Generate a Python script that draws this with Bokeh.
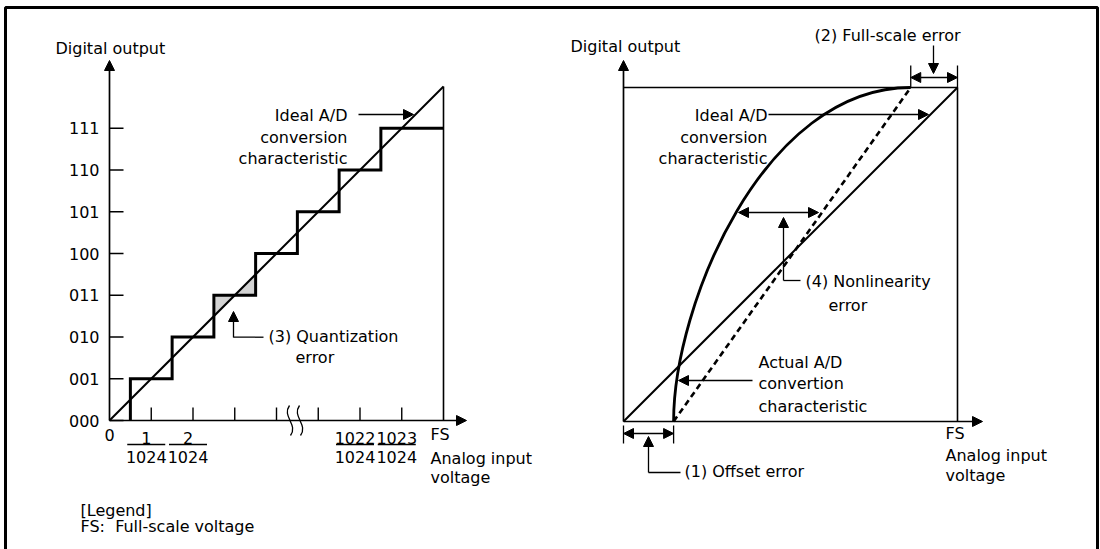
from bokeh.plotting import figure
from bokeh.models import Range1d, Arrow, NormalHead
from bokeh.embed import file_html
from bokeh.resources import INLINE
from bokeh.core.properties import value

# ---------------- data ----------------
# left panel: 3-bit view of the A/D transfer function (units = LSB)
codes = ["000", "001", "010", "011", "100", "101", "110", "111"]
transitions = [0.5, 1.5, 2.5, 3.5, 4.5, 5.5, 6.5]
full_scale = 8
ticks_before_break = [1, 2, 3, 4]
ticks_after_break = [5, 6, 7]
frac_pos = [1, 2, 6, 7]
frac_num = ["1", "2", "1022", "1023"]
frac_den = ["1024", "1024", "1024", "1024"]
quant_code = 3

# right panel (fractions of full scale)
offset_error = 0.15
fullscale_error = 0.14
# actual characteristic as a cubic Bezier: start, control 1, control 2, end
actual_start = (0.15, 0.0)
actual_ctrl1 = (0.15, 0.35)
actual_ctrl2 = (0.42, 1.0)
actual_end = (0.86, 1.0)

# ---------------- layout ----------------
W, H = 1100, 549
PX0, PY0 = 0, 0
FONT = value("DejaVu Sans")
FS_ = "16px"
L_OX, L_OY, R_OX, R_OY, SIDE = 109, 420, 623, 421, 334
LSB = SIDE / full_scale


def xr(ox, unit):
    return Range1d((PX0 - ox) / unit, (PX0 + W - ox) / unit)


def yr(oy, unit):
    return Range1d((oy - (PY0 + H)) / unit, (oy - PY0) / unit)


p = figure(width=W, height=H, x_range=Range1d(PX0, PX0 + W), y_range=Range1d(PY0 + H, PY0),
           output_backend="svg", toolbar_location=None, min_border=0,
           x_axis_location=None, y_axis_location=None)
p.grid.visible = False
p.outline_line_color = None
p.background_fill_color = "white"
p.extra_x_ranges = {"L": xr(L_OX, LSB), "R": xr(R_OX, SIDE)}
p.extra_y_ranges = {"L": yr(L_OY, LSB), "R": yr(R_OY, SIDE)}
LR = dict(x_range_name="L", y_range_name="L")
RR = dict(x_range_name="R", y_range_name="R")


def txt(x, y, t, align="left", **kw):
    p.text(x=x, y=y, text=t, text_font=FONT, text_font_size=FS_, text_color="black",
           text_align=align, text_baseline="middle", **kw)


def arrow(x0, y0, x1, y1, both=False, lw=1.3, **kw):
    head = lambda: NormalHead(size=10, fill_color="black", line_color="black", line_width=1)
    p.add_layout(Arrow(x_start=x0, y_start=y0, x_end=x1, y_end=y1, line_width=lw,
                       line_color="black", end=head(), start=head() if both else None, **kw))


# outer frame
p.line([5, 5, 1097, 1097], [560, 7, 7, 560], line_width=3, line_color="black")

# ================= LEFT PANEL =================
q = quant_code
p.patches([[q - 0.5, q - 0.5, q], [q, q + 0.5, q + 0.5]],
          [[q - 0.5, q, q], [q, q, q + 0.5]], fill_color="#d3d3d3", line_color=None, **LR)
sx, sy = [transitions[0]], [0]
for k, t in enumerate(transitions):
    sx += [t, t]
    sy += [k, k + 1]
sx.append(full_scale)
sy.append(len(transitions))
p.line(sx, sy, line_width=3, line_color="black", line_join="miter", **LR)
p.line([0, full_scale], [0, full_scale], line_width=2, line_color="black", **LR)
p.line([full_scale, full_scale], [0, full_scale], line_width=1.6, line_color="black", **LR)
n = len(codes)
p.segment(x0=[0] * n, y0=list(range(n)), x1=[14 / LSB] * n, y1=list(range(n)),
          line_width=1.4, line_color="black", **LR)
txt([0] * n, list(range(n)), codes, align="right", x_offset=-10, **LR)
xt = ticks_before_break + ticks_after_break
p.segment(x0=xt, y0=[0] * len(xt), x1=xt, y1=[13 / LSB] * len(xt),
          line_width=1.4, line_color="black", **LR)
txt([0], [0], ["0"], align="center", y_offset=14, **LR)
txt(frac_pos, [0] * 4, frac_num, align="center", x_offset=-5, y_offset=17.5, **LR)
txt(frac_pos, [0] * 4, frac_den, align="center", x_offset=-5, y_offset=36.5, **LR)
p.rect(x=[f - 5 / LSB for f in frac_pos], y=[-24 / LSB] * 4, width=38, height=1.3,
       width_units="screen", height_units="screen", fill_color="black", line_color=None, **LR)
for bx in (289, 299):
    p.bezier(x0=[bx], y0=[405], x1=[bx + 1], y1=[435], cx0=[bx - 8], cy0=[416],
             cx1=[bx + 9], cy1=[424], line_width=1.3, line_color="black")
arrow(L_OX, L_OY, L_OX, 60, lw=1.7)
arrow(L_OX, L_OY, 466, L_OY, lw=1.7)

txt([55], [47.5], ["Digital output"])
txt([347, 347, 347], [115, 137, 158], ["Ideal A/D", "conversion", "characteristic"], align="right")
arrow(358, 114, 413, 114)
txt([268, 295], [335.5, 357], ["(3) Quantization", "error"])
p.line([263, 233], [336.7, 336.7], line_width=1.3, line_color="black")
arrow(233, 337, 233, 311)
txt([430, 430, 430], [434, 457.5, 476.5], ["FS", "Analog input", "voltage"])
txt([80, 80], [510, 526], ["[Legend]", "FS:\u00a0\u00a0Full-scale voltage"])

# ================= RIGHT PANEL =================
p.line([0, 1, 1], [1, 1, 0], line_width=1.6, line_color="black", **RR)
p.line([0, 1], [0, 1], line_width=2, line_color="black", **RR)
p.line([offset_error, 1 - fullscale_error], [0, 1], line_width=2.6, line_color="black",
       line_dash="6 4", **RR)
p.bezier(x0=[actual_start[0]], y0=[actual_start[1]], cx0=[actual_ctrl1[0]], cy0=[actual_ctrl1[1]],
         cx1=[actual_ctrl2[0]], cy1=[actual_ctrl2[1]], x1=[actual_end[0]], y1=[actual_end[1]],
         line_width=2.8, line_color="black", **RR)
arrow(R_OX, R_OY, R_OX, 60, lw=1.7)
arrow(R_OX, R_OY, 982, R_OY, lw=1.7)

txt([570], [45.5], ["Digital output"])
p.segment(x0=[1 - fullscale_error, 1], y0=[1, 1], x1=[1 - fullscale_error, 1],
          y1=[1 + 22 / SIDE, 1 + 22 / SIDE], line_width=1.3, line_color="black", **RR)
arrow(1 - fullscale_error, 1 + 10 / SIDE, 1, 1 + 10 / SIDE, both=True, **RR)
arrow(933, 45, 933, 73)
txt([960], [34.5], ["(2) Full-scale error"], align="right")
txt([767, 767, 767], [115, 137, 157.5], ["Ideal A/D", "conversion", "characteristic"], align="right")
arrow(768, 114, 928, 114)
arrow(738, 212, 818, 212, both=True)
p.line([800, 783], [280, 280], line_width=1.3, line_color="black")
arrow(783, 280, 783, 217)
txt([805, 828], [281, 304.5], ["(4) Nonlinearity", "error"])
txt([758, 758, 758], [361.5, 383, 405.5], ["Actual A/D", "convertion", "characteristic"])
arrow(752, 380, 678, 380)
p.segment(x0=[0, offset_error], y0=[-4 / SIDE, -4 / SIDE], x1=[0, offset_error],
          y1=[-22 / SIDE, -22 / SIDE], line_width=1.3, line_color="black", **RR)
arrow(0, -12 / SIDE, offset_error, -12 / SIDE, both=True, **RR)
p.line([680, 648], [472, 472], line_width=1.3, line_color="black")
arrow(648, 472, 648, 436)
txt([684], [470.5], ["(1) Offset error"])
txt([945, 945, 945], [432.5, 455, 475], ["FS", "Analog input", "voltage"])

open("out.html", "w").write(file_html(p, INLINE))
